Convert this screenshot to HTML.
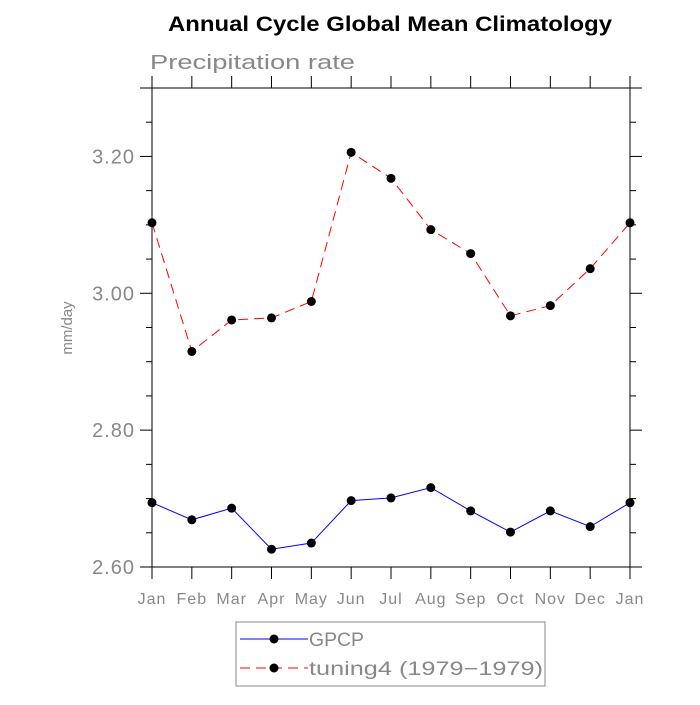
<!DOCTYPE html>
<html><head><meta charset="utf-8"><style>body{margin:0;background:#fff}svg text{font-family:"Liberation Sans",sans-serif}</style></head>
<body>
<svg id="c" width="700" height="700">
<text x="168" y="31" font-size="21" font-weight="bold" textLength="444" lengthAdjust="spacingAndGlyphs">Annual Cycle Global Mean Climatology</text>
<text x="150" y="69" font-size="20" fill="#888" textLength="205" lengthAdjust="spacingAndGlyphs">Precipitation rate</text>
<text transform="translate(72,328) rotate(-90)" text-anchor="middle" font-size="15" fill="#888">mm/day</text>
<g id="axes"></g><g id="series"></g>
<rect x="236" y="622" width="309" height="64" fill="none" stroke="#888"/>
<g><line x1="240" y1="639" x2="308" y2="639" stroke="#00f"/><circle cx="274" cy="639" r="4.5"/><text x="309" y="646" font-size="19" fill="#888" textLength="55" lengthAdjust="spacingAndGlyphs">GPCP</text></g>
<g><line x1="240" y1="668" x2="308" y2="668" stroke="#f00" stroke-dasharray="10,6"/><circle cx="274" cy="668" r="4.5"/><text x="309" y="675" font-size="19" fill="#888" textLength="234" lengthAdjust="spacingAndGlyphs">tuning4 (1979−1979)</text></g>
</svg>
<script>
const months=["Jan","Feb","Mar","Apr","May","Jun","Jul","Aug","Sep","Oct","Nov","Dec","Jan"];
const gpcp=[2.694,2.669,2.686,2.626,2.635,2.697,2.701,2.716,2.682,2.651,2.682,2.659,2.694];
const tuning4=[3.103,2.915,2.961,2.964,2.988,3.206,3.168,3.093,3.058,2.967,2.982,3.036,3.103];
const yTicks=[2.6,2.8,3.0,3.2];
const yTickLabels=["2.60","2.80","3.00","3.20"];
const X0=152,X1=630,Y0=567,Y1=88,ymin=2.6,ymax=3.3;
const xs=i=>X0+(X1-X0)*i/(months.length-1);
const ys=v=>Y0-(v-ymin)/(ymax-ymin)*(Y0-Y1);
const NS="http://www.w3.org/2000/svg";
function mk(t,a,p){const e=document.createElementNS(NS,t);for(const k in a)e.setAttribute(k,a[k]);p.appendChild(e);return e;}
const ax=document.getElementById('axes');
let e;
e=mk('path',{d:`M140,${Y1}H642M140,${Y0}H642M${X0},${Y1}V${Y0}M${X1},${Y1}V${Y0}`,stroke:'#000',fill:'none'},ax);


months.forEach((m,i)=>{const x=xs(i);
mk('line',{x1:x,x2:x,y1:Y0,y2:Y0+12,stroke:'#000'},ax);
mk('line',{x1:x,x2:x,y1:Y1,y2:Y1-12,stroke:'#000'},ax);
const t=mk('text',{x:x,y:Y0+37,'text-anchor':'middle','font-size':16,fill:'#888','letter-spacing':1},ax);t.textContent=m;

});
for(let v=2.6;v<=3.3001;v+=0.05){const y=ys(v);const maj=Math.abs(v*10-Math.round(v*10))<0.01&&Math.round(v*10)%2===0;const L=maj?12:6;
mk('line',{x1:X0-L,x2:X0,y1:y,y2:y,stroke:'#000'},ax);mk('line',{x1:X1,x2:X1+L,y1:y,y2:y,stroke:'#000'},ax);}
yTicks.forEach((v,i)=>{const t=mk('text',{x:X0-17,y:ys(v)+7,'text-anchor':'end','font-size':20,fill:'#888','letter-spacing':1},ax);t.textContent=yTickLabels[i];

});
const sg=document.getElementById('series');
function series(vals,col,dash,name){const g=mk('g',{},sg);


mk('polyline',{points:vals.map((v,i)=>xs(i)+','+ys(v)).join(' '),fill:'none',stroke:col,'stroke-dasharray':dash},g);
vals.forEach((v,i)=>mk('circle',{cx:xs(i),cy:ys(v),r:4.5},g));}
series(tuning4,'#f00','10,6','tuning4-series');
series(gpcp,'#00f','none','gpcp-series');
</script>
</body></html>
